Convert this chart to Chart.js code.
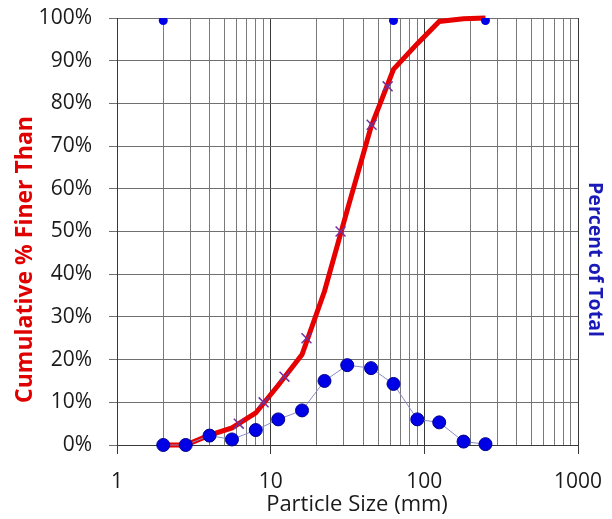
<!DOCTYPE html>
<html>
<head>
<meta charset="utf-8">
<script src="https://cdn.jsdelivr.net/npm/chart.js@4/dist/chart.umd.min.js"></script>
<style>
  html, body { margin: 0; padding: 0; background: #fff; }
  #wrap { width: 612px; height: 519px; position: relative; }
</style>
</head>
<body>
<div id="wrap"><canvas id="gradation"></canvas></div>
<script>
// Sieve sizes (mm) and the two measured series
const sizes = [2, 2.8, 4, 5.6, 8, 11.2, 16, 22.4, 31.5, 45, 63, 90, 125, 180, 250];
const cumFiner = [0, 0, 2.3, 4, 7.5, 14, 21.2, 36, 55, 74.5, 88, 94, 99.2, 99.8, 100];
const pctTotal = [0, 0, 2.2, 1.3, 3.5, 6.0, 8.1, 15.0, 18.7, 18.0, 14.3, 6.0, 5.3, 0.8, 0.2];

// Characteristic sizes (D5, D10, D16, D25, D50, D75, D84)
const dSizes = [6.2, 9.0, 12.3, 17.1, 28.5, 45.4, 57.7];
const dPercents = [5, 10, 16, 25, 50, 75, 84];

// Small markers along the top edge
const topSizes = [2, 63, 250];
const topValues = [99.4, 99.4, 99.4];

// Axis ticks
const xTicks = [1, 2, 3, 4, 5, 6, 7, 8, 9, 10, 20, 30, 40, 50, 60, 70, 80, 90, 100,
  200, 300, 400, 500, 600, 700, 800, 900, 1000];
const xLabels = [1, 10, 100, 1000];

// Axis titles
const xTitle = 'Particle Size (mm)';
const leftTitle = 'Cumulative % Finer Than';
const rightTitle = 'Percent of Total';

const pts = (xs, ys) => xs.map((x, i) => ({ x: x, y: ys[i] }));
const FONT = '"Open Sans", "Noto Sans", sans-serif';
const isMajor = v => xLabels.includes(v);

// Axis titles drawn by hand: the side ones are centred on the whole chart height
const axisTitles = {
  id: 'axisTitles',
  afterDraw(chart) {
    const ctx = chart.ctx;
    const midY = chart.height / 2;
    ctx.save();
    ctx.textAlign = 'center';
    ctx.textBaseline = 'middle';

    ctx.font = '22px ' + FONT;
    ctx.fillStyle = '#1a1a1a';
    ctx.fillText(xTitle, 357, 505);

    ctx.save();
    ctx.translate(25, midY);
    ctx.rotate(-Math.PI / 2);
    ctx.font = 'bold 23px ' + FONT;
    ctx.fillStyle = '#e00000';
    ctx.fillText(leftTitle, 0, 0);
    ctx.restore();

    ctx.save();
    ctx.translate(595, midY);
    ctx.rotate(Math.PI / 2);
    ctx.font = 'bold 19.5px ' + FONT;
    ctx.fillStyle = '#1a1ab8';
    ctx.fillText(rightTitle, 0, 0);
    ctx.restore();

    ctx.restore();
  }
};

new Chart(document.getElementById('gradation'), {
  type: 'line',
  data: {
    datasets: [
      {
        label: rightTitle,
        data: pts(sizes, pctTotal),
        borderColor: '#8a8ac8',
        borderWidth: 1,
        pointRadius: 6.5,
        pointBackgroundColor: '#0000e6',
        pointBorderColor: '#00008b',
        pointBorderWidth: 1,
        clip: 8,
        order: 0
      },
      {
        label: 'top',
        data: pts(topSizes, topValues),
        showLine: false,
        pointRadius: 4.5,
        pointBackgroundColor: '#0000e6',
        pointBorderColor: '#0000e6',
        pointBorderWidth: 0,
        clip: 0,
        order: 1
      },
      {
        label: 'D values',
        data: pts(dSizes, dPercents),
        showLine: false,
        pointStyle: 'crossRot',
        pointRadius: 7,
        pointBorderColor: '#7030a0',
        pointBorderWidth: 1.5,
        order: 2
      },
      {
        label: leftTitle,
        data: pts(sizes, cumFiner),
        borderColor: '#e60000',
        borderWidth: 5,
        pointRadius: 0,
        clip: 4,
        order: 3
      }
    ]
  },
  options: {
    responsive: true,
    maintainAspectRatio: false,
    animation: false,
    layout: { padding: { top: 18, left: 0, right: 34, bottom: 0 } },
    plugins: {
      legend: { display: false },
      tooltip: { enabled: false }
    },
    scales: {
      x: {
        type: 'logarithmic',
        min: 1,
        max: 1000,
        afterBuildTicks: scale => { scale.ticks = xTicks.map(v => ({ value: v })); },
        afterFit: scale => {
          scale.height = 74;
          scale.paddingLeft = 0;
          scale.paddingRight = 0;
        },
        ticks: {
          autoSkip: false,
          maxRotation: 0,
          padding: 15,
          color: '#1a1a1a',
          font: { family: FONT, size: 21 },
          callback: v => (isMajor(v) ? String(v) : '')
        },
        grid: {
          color: ctx => (ctx.tick && isMajor(ctx.tick.value) ? '#3a3a3a' : '#7a7a7a'),
          tickColor: ctx => (ctx.tick && isMajor(ctx.tick.value) ? '#3a3a3a' : 'rgba(0,0,0,0)'),
          tickLength: 9
        },
        border: { color: '#3a3a3a' },
        title: { display: false }
      },
      y: {
        min: 0,
        max: 100,
        afterFit: scale => {
          scale.width = 117;
          scale.paddingTop = 0;
          scale.paddingBottom = 0;
        },
        ticks: {
          stepSize: 10,
          padding: 17,
          color: '#1a1a1a',
          font: { family: FONT, size: 21 },
          callback: v => v + '%'
        },
        grid: { color: '#707070', tickColor: '#707070', tickLength: 8 },
        border: { color: '#3a3a3a' },
        title: { display: false }
      }
    }
  },
  plugins: [axisTitles]
});
</script>
</body>
</html>
